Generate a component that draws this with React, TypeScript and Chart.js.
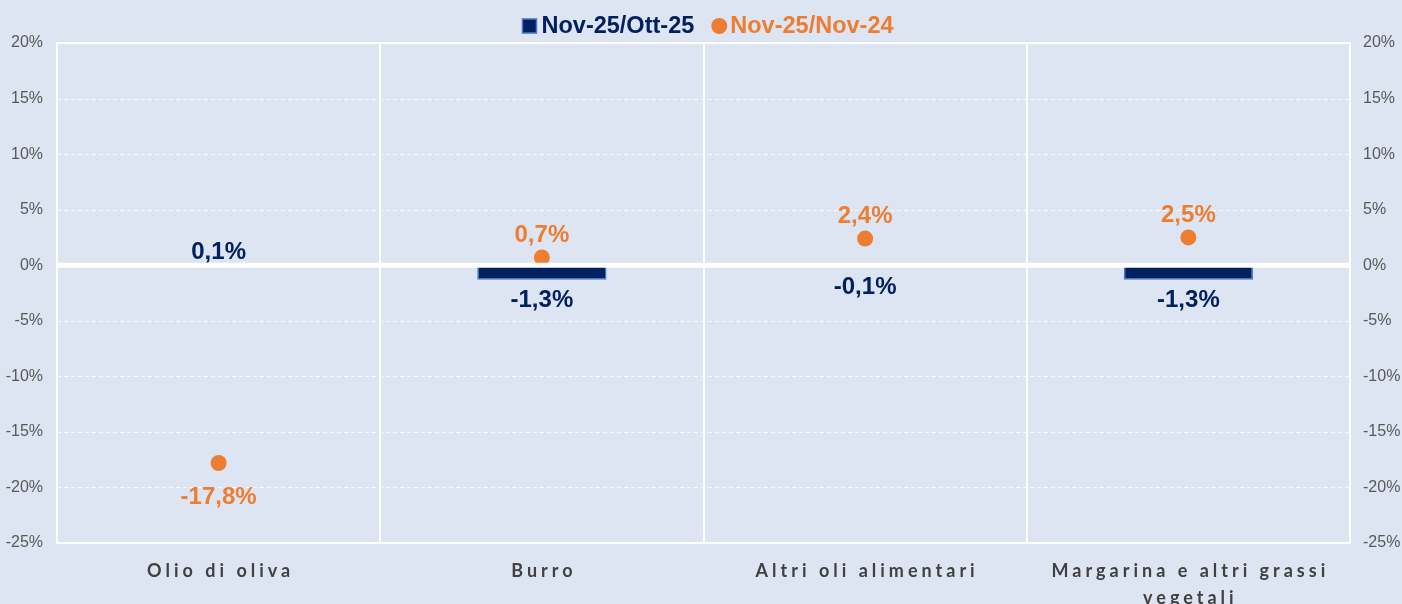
import React, { useEffect, useRef } from 'react';
import { Chart, registerables } from 'chart.js';

Chart.register(...registerables);

const categories: string[][] = [
  ['Olio di oliva'],
  ['Burro'],
  ['Altri oli alimentari'],
  ['Margarina e altri grassi', 'vegetali'],
];
const monthlyChange = [0.1, -1.3, -0.1, -1.3];
const yearlyChange = [-17.8, 0.7, 2.4, 2.5];
const yearlyLabelSide = ['below', 'above', 'above', 'above'];
const seriesNames = ['Nov-25/Ott-25', 'Nov-25/Nov-24'];
const yMin = -25;
const yMax = 20;
const yStep = 5;

const NAVY = '#002060';
const ORANGE = '#ED7D31';
const BAR_BORDER = '#4A74C9';
const BG = '#dde5f2';
const TICK = '#595959';
const CAT = '#404040';

const fmt = (v: number) => v.toFixed(1).replace('.', ',') + '%';

const decorPlugin = {
  id: 'decor',
  beforeDraw(chart: any) {
    const { ctx, width, height } = chart;
    ctx.save();
    ctx.fillStyle = BG;
    ctx.fillRect(0, 0, width, height);
    ctx.restore();
  },
  beforeDatasetsDraw(chart: any) {
    const { ctx, chartArea } = chart;
    const y = chart.scales.y;
    ctx.save();
    ctx.strokeStyle = 'rgba(255,255,255,0.75)';
    ctx.lineWidth = 1;
    ctx.setLineDash([4, 3]);
    y.ticks.forEach((t: any) => {
      if (t.value === yMin || t.value === yMax || t.value === 0) return;
      const py = Math.round(y.getPixelForValue(t.value)) + 0.5;
      ctx.beginPath();
      ctx.moveTo(chartArea.left, py);
      ctx.lineTo(chartArea.right, py);
      ctx.stroke();
    });
    ctx.setLineDash([]);
    ctx.strokeStyle = '#ffffff';
    ctx.lineWidth = 2;
    ctx.strokeRect(chartArea.left, chartArea.top, chartArea.right - chartArea.left, chartArea.bottom - chartArea.top);
    ctx.restore();
  },
  afterDatasetsDraw(chart: any) {
    const { ctx, chartArea } = chart;
    const y = chart.scales.y;
    const x = chart.scales.x;
    ctx.save();
    // zero line
    const zy = y.getPixelForValue(0);
    ctx.strokeStyle = '#ffffff';
    ctx.lineWidth = 5;
    ctx.beginPath();
    ctx.moveTo(chartArea.left, zy);
    ctx.lineTo(chartArea.right, zy);
    ctx.stroke();

    // bar labels
    ctx.font = 'bold 24px "Liberation Sans", Arial, sans-serif';
    ctx.textAlign = 'center';
    const barMeta = chart.getDatasetMeta(0);
    barMeta.data.forEach((el: any, i: number) => {
      const v = monthlyChange[i];
      ctx.fillStyle = NAVY;
      if (v >= 0) {
        ctx.textBaseline = 'bottom';
        ctx.fillText(fmt(v), el.x, el.y);
      } else {
        ctx.textBaseline = 'top';
        ctx.fillText(fmt(v), el.x, el.y + 9);
      }
    });
    // point labels
    const ptMeta = chart.getDatasetMeta(1);
    ptMeta.data.forEach((el: any, i: number) => {
      const v = yearlyChange[i];
      ctx.fillStyle = ORANGE;
      if (yearlyLabelSide[i] === 'above') {
        ctx.textBaseline = 'bottom';
        ctx.fillText(fmt(v), el.x, el.y - 10);
      } else {
        ctx.textBaseline = 'top';
        ctx.fillText(fmt(v), el.x, el.y + 22);
      }
    });

    // category labels
    ctx.fillStyle = CAT;
    ctx.font = 'bold 18px Lato, "Open Sans", sans-serif';
    (ctx as any).letterSpacing = '4px';
    ctx.textBaseline = 'middle';
    categories.forEach((lines, i) => {
      const px = x.getPixelForValue(i);
      lines.forEach((ln, j) => {
        ctx.fillText(ln, px + 2, 571 + j * 27);
      });
    });
    (ctx as any).letterSpacing = '0px';

    // legend
    ctx.font = 'bold 23.5px "Liberation Sans", Arial, sans-serif';
    ctx.textBaseline = 'middle';
    ctx.textAlign = 'left';
    const w1 = ctx.measureText(seriesNames[0]).width;
    const w2 = ctx.measureText(seriesNames[1]).width;
    const total = 14 + 5 + w1 + 17 + 16 + 3 + w2;
    let lx = chart.width / 2 + 7 - total / 2;
    const ly = 26;
    ctx.fillStyle = NAVY;
    ctx.fillRect(lx, ly - 7, 14, 14);
    ctx.strokeStyle = BAR_BORDER;
    ctx.lineWidth = 1.5;
    ctx.strokeRect(lx, ly - 7, 14, 14);
    lx += 19;
    ctx.fillText(seriesNames[0], lx, ly + 1);
    lx += w1 + 17;
    ctx.fillStyle = ORANGE;
    ctx.beginPath();
    ctx.arc(lx + 8, ly, 8, 0, Math.PI * 2);
    ctx.fill();
    lx += 19;
    ctx.fillText(seriesNames[1], lx, ly + 1);
    ctx.restore();
  },
};

export default function App() {
  const ref = useRef<HTMLCanvasElement | null>(null);
  useEffect(() => {
    document.body.style.margin = '0';
    if (!ref.current) return;
    const chart = new Chart(ref.current, {
      type: 'bar',
      data: {
        labels: categories.map((c) => c.join(' ')),
        datasets: [
          {
            type: 'bar',
            label: seriesNames[0],
            data: monthlyChange,
            backgroundColor: NAVY,
            borderColor: BAR_BORDER,
            borderWidth: 1.5,
            borderSkipped: false,
            barPercentage: 0.4,
            categoryPercentage: 1,
            order: 2,
          } as any,
          {
            type: 'line',
            label: seriesNames[1],
            data: yearlyChange,
            showLine: false,
            pointRadius: 8,
            pointHoverRadius: 8,
            pointBackgroundColor: ORANGE,
            pointBorderWidth: 0,
            borderColor: ORANGE,
            order: 1,
          } as any,
        ],
      },
      options: {
        animation: false,
        responsive: false,
        events: [],
        layout: { padding: { top: 43, left: 0, right: 0, bottom: 0 } },
        plugins: { legend: { display: false }, tooltip: { enabled: false } },
        scales: {
          x: {
            offset: true,
            grid: { color: '#ffffff', lineWidth: 2, offset: true, drawTicks: false },
            border: { color: '#ffffff', width: 2 },
            ticks: { display: false },
            afterFit: (s: any) => { s.height = 61; },
          },
          y: {
            position: 'left',
            min: yMin,
            max: yMax,
            grid: { display: false },
            border: { display: false },
            ticks: {
              stepSize: yStep,
              color: TICK,
              padding: 6,
              font: { family: '"Liberation Sans", Arial, sans-serif', size: 16 },
              callback: (v: any) => `${v}%`,
            },
            afterFit: (s: any) => { s.width = 57; },
          },
          y2: {
            position: 'right',
            min: yMin,
            max: yMax,
            grid: { display: false },
            border: { display: false },
            ticks: {
              stepSize: yStep,
              color: TICK,
              padding: 5,
              font: { family: '"Liberation Sans", Arial, sans-serif', size: 16 },
              callback: (v: any) => `${v}%`,
            },
            afterFit: (s: any) => { s.width = 52; },
          },
        },
      } as any,
      plugins: [decorPlugin],
    });
    return () => chart.destroy();
  }, []);
  return (
    <div style={{ width: 1402, height: 604 }}>
      <canvas ref={ref} width={1402} height={604} style={{ display: 'block', width: 1402, height: 604 }} />
    </div>
  );
}
